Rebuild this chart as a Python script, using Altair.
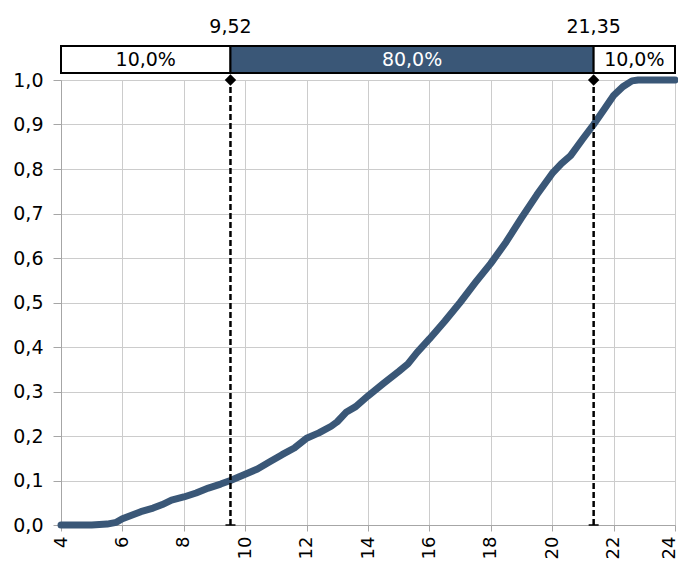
import altair as alt
import pandas as pd

# ---- data ----
cdf_x = [4.0, 5.0, 5.5, 5.8, 6.0, 6.3, 6.6, 7.0, 7.3, 7.6, 8.0, 8.4, 8.8, 9.2, 9.52,
         10.0, 10.4, 10.8, 11.2, 11.6, 12.0, 12.4, 12.8, 13.0, 13.3, 13.6, 14.0, 14.5,
         15.0, 15.3, 15.6, 16.0, 16.5, 17.0, 17.5, 18.0, 18.5, 19.0, 19.5, 20.0, 20.3,
         20.6, 21.0, 21.35, 21.7, 22.0, 22.3, 22.6, 22.8, 24.0]
cdf_p = [0.0, 0.0, 0.002, 0.006, 0.014, 0.022, 0.030, 0.038, 0.046, 0.056, 0.063, 0.072,
         0.083, 0.092, 0.100, 0.114, 0.126, 0.142, 0.158, 0.173, 0.195, 0.207, 0.222,
         0.232, 0.254, 0.266, 0.290, 0.318, 0.345, 0.362, 0.388, 0.418, 0.458, 0.500,
         0.545, 0.588, 0.636, 0.690, 0.742, 0.790, 0.812, 0.830, 0.868, 0.900, 0.935,
         0.965, 0.985, 0.998, 1.0, 1.0]

band_start = [4, 9.52, 21.35]
band_end = [9.52, 21.35, 24]
band_label = ["10,0%", "80,0%", "10,0%"]
band_fill = ["white", "#3a5777", "white"]
band_text = ["black", "white", "black"]

marker_x = [9.52, 21.35]
marker_label = ["9,52", "21,35"]

x_ticks = [4, 6, 8, 10, 12, 14, 16, 18, 20, 22, 24]
y_ticks = [0.0, 0.1, 0.2, 0.3, 0.4, 0.5, 0.6, 0.7, 0.8, 0.9, 1.0]

FONT = "DejaVu Sans"
FS = 19
BLUE = "#3a5777"

curve = pd.DataFrame({"x": cdf_x, "p": cdf_p})
bands = pd.DataFrame({
    "start": band_start, "end": band_end, "label": band_label,
    "fill": band_fill, "tc": band_text,
    "mid": [(a + b) / 2 for a, b in zip(band_start, band_end)],
})
markers = pd.DataFrame({"x": marker_x, "label": marker_label,
                        "top": [1.0] * len(marker_x), "bottom": [0.0] * len(marker_x)})

xscale = alt.Scale(domain=[4, 24], nice=False, zero=False)
yscale = alt.Scale(domain=[0, 1], nice=False, zero=False)

xaxis = alt.Axis(values=x_ticks, labelAngle=-90, title=None, grid=True,
                 gridColor="#cccccc", gridWidth=1, domainColor="#a6a6a6",
                 tickColor="#a6a6a6", tickSize=6, labelFontSize=18,
                 labelFont=FONT, labelColor="black", labelPadding=5, format="d",
                 labelOffset={"condition": {"test": "datum.value >= 24", "value": -6},
                              "value": 0})
yaxis = alt.Axis(values=y_ticks, title=None, grid=True, gridColor="#cccccc",
                 gridWidth=1, domainColor="#a6a6a6", tickColor="#a6a6a6",
                 tickSize=8, labelFontSize=FS, labelFont=FONT, labelColor="black",
                 labelPadding=10,
                 labelExpr="replace(format(datum.value, '.1f'), '.', ',')")


def X(field):
    return alt.X(field, scale=xscale, axis=xaxis)


def Y(field):
    return alt.Y(field, scale=yscale, axis=yaxis)


line = alt.Chart(curve).mark_line(color=BLUE, strokeWidth=7, strokeCap="round",
                                  strokeJoin="round").encode(
    x=X("x:Q"), y=Y("p:Q"),
)

rules = alt.Chart(markers).mark_rule(color="black", strokeWidth=2.5,
                                     strokeDash=[6, 3]).encode(
    x=X("x:Q"), y=Y("bottom:Q"), y2="top:Q",
)

diamonds = alt.Chart(markers).mark_point(shape="diamond", filled=True,
                                         color="black", size=130, opacity=1).encode(
    x=X("x:Q"), y=Y("top:Q"),
)

feet = alt.Chart(markers).mark_point(shape="M-1,0L1,0", filled=False,
                                     stroke="black", strokeWidth=1.5, size=100,
                                     opacity=1).encode(
    x=X("x:Q"), y=Y("bottom:Q"),
)

boxes = alt.Chart(bands).mark_rect(stroke="black", strokeWidth=2).encode(
    x=X("start:Q"),
    x2="end:Q",
    y=alt.value(-34),
    y2=alt.value(-7),
    fill=alt.Fill("fill:N", scale=None),
)

box_text = alt.Chart(bands).mark_text(font=FONT, fontSize=FS,
                                      baseline="middle").encode(
    x=X("mid:Q"),
    y=alt.value(-20),
    text="label:N",
    color=alt.Color("tc:N", scale=None),
)

marker_text = alt.Chart(markers).mark_text(font=FONT, fontSize=FS,
                                           baseline="middle", color="black").encode(
    x=X("x:Q"),
    y=alt.value(-53),
    text="label:N",
)

chart = alt.layer(line, rules, diamonds, feet, boxes, box_text, marker_text).properties(
    width=614, height=445,
    autosize=alt.AutoSizeParams(type="none"),
    padding={"left": 53, "top": 72, "right": 3, "bottom": 36},
).configure_view(fill="#f4f4f4", stroke="#cccccc").configure(background="white")

chart.save("out.html", embed_options={"renderer": "svg", "actions": False})
